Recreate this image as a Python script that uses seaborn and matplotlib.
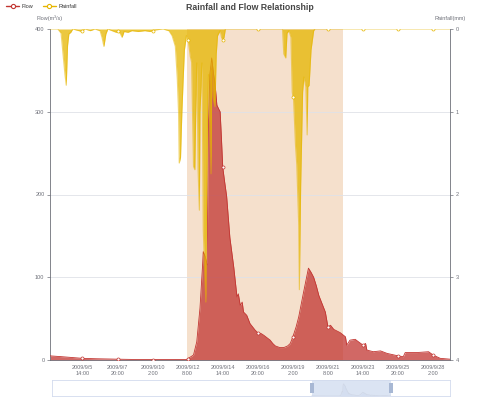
import matplotlib
matplotlib.use('Agg')
import matplotlib.pyplot as plt
from matplotlib.lines import Line2D
import pandas as pd
import seaborn as sns

# --- data ---
FLOW_TIMES = [
    '2009/9/3 12:00', '2009/9/4 6:00', '2009/9/5 14:00', '2009/9/6 12:00', '2009/9/7 20:00',
    '2009/9/9 0:00', '2009/9/10 2:00', '2009/9/11 12:00', '2009/9/12 6:00', '2009/9/12 8:00',
    '2009/9/12 9:00', '2009/9/12 13:00', '2009/9/12 17:00', '2009/9/12 22:00', '2009/9/13 3:00',
    '2009/9/13 7:00', '2009/9/13 8:00', '2009/9/13 11:00', '2009/9/13 14:00', '2009/9/13 16:00',
    '2009/9/13 18:00', '2009/9/13 21:00', '2009/9/14 0:00', '2009/9/14 2:00', '2009/9/14 5:00',
    '2009/9/14 8:00', '2009/9/14 10:00', '2009/9/14 12:00', '2009/9/14 14:00', '2009/9/14 17:00',
    '2009/9/14 20:00', '2009/9/15 1:00', '2009/9/15 4:00', '2009/9/15 7:00', '2009/9/15 12:00',
    '2009/9/15 14:00', '2009/9/15 17:00', '2009/9/15 20:00', '2009/9/15 22:00', '2009/9/16 3:00',
    '2009/9/16 8:00', '2009/9/16 12:00', '2009/9/16 16:00', '2009/9/16 20:00', '2009/9/17 1:00',
    '2009/9/17 5:00', '2009/9/17 10:00', '2009/9/17 15:00', '2009/9/17 19:00', '2009/9/17 23:00',
    '2009/9/18 6:00', '2009/9/18 12:00', '2009/9/18 18:00', '2009/9/18 22:00', '2009/9/19 2:00',
    '2009/9/19 7:00', '2009/9/19 11:00', '2009/9/19 18:00', '2009/9/20 2:00', '2009/9/20 6:00',
    '2009/9/20 10:00', '2009/9/20 14:00', '2009/9/20 18:00', '2009/9/21 1:00', '2009/9/21 4:00',
    '2009/9/21 8:00', '2009/9/21 12:00', '2009/9/21 17:00', '2009/9/22 3:00', '2009/9/22 11:00',
    '2009/9/22 13:00', '2009/9/22 18:00', '2009/9/23 2:00', '2009/9/23 7:00', '2009/9/23 14:00',
    '2009/9/23 18:00', '2009/9/23 20:00', '2009/9/24 6:00', '2009/9/24 17:00', '2009/9/25 3:00',
    '2009/9/25 20:00', '2009/9/26 4:00', '2009/9/26 7:00', '2009/9/27 1:00', '2009/9/27 19:00',
    '2009/9/28 2:00', '2009/9/28 13:00', '2009/9/29 4:00',
]
FLOW_VALUES = [
    5, 4, 2, 1.5, 1,
    0.6, 0.5, 0.5, 0.6, 1.5,
    2, 4, 6, 22, 63,
    115, 131, 125, 115, 284,
    344, 365, 345, 335, 308,
    303, 300, 268, 233, 215,
    198, 148, 130, 112, 76,
    80, 66, 70, 58, 54,
    44, 40, 36, 33, 32,
    30, 27, 24, 20, 17,
    15, 15, 17, 20, 28,
    40, 52, 80, 111, 106,
    100, 90, 78, 64, 58,
    40, 42, 37, 33, 28,
    18, 24, 25, 22, 18,
    20, 12, 10, 11, 8,
    5, 4, 9, 9, 10,
    6, 2, 1,
]

RAIN_TIMES = [
    '2009/9/3 12:00', '2009/9/4 0:00', '2009/9/4 5:00', '2009/9/4 8:00', '2009/9/4 11:00',
    '2009/9/4 13:00', '2009/9/4 15:00', '2009/9/4 17:00', '2009/9/4 20:00', '2009/9/4 23:00',
    '2009/9/5 13:00', '2009/9/5 14:00', '2009/9/5 18:00', '2009/9/6 2:00', '2009/9/6 9:00',
    '2009/9/6 17:00', '2009/9/6 20:00', '2009/9/6 23:00', '2009/9/7 2:00', '2009/9/7 5:00',
    '2009/9/7 18:00', '2009/9/7 20:00', '2009/9/8 0:00', '2009/9/8 3:00', '2009/9/8 6:00',
    '2009/9/8 12:00', '2009/9/8 18:00', '2009/9/9 4:00', '2009/9/9 14:00', '2009/9/9 22:00',
    '2009/9/10 2:00', '2009/9/10 7:00', '2009/9/10 18:00', '2009/9/11 3:00', '2009/9/11 8:00',
    '2009/9/11 13:00', '2009/9/11 16:00', '2009/9/11 18:00', '2009/9/11 19:00', '2009/9/11 21:00',
    '2009/9/11 23:00', '2009/9/12 1:00', '2009/9/12 3:00', '2009/9/12 6:00', '2009/9/12 8:00',
    '2009/9/12 9:00', '2009/9/12 12:00', '2009/9/12 14:00', '2009/9/12 17:00', '2009/9/12 19:00',
    '2009/9/12 20:00', '2009/9/12 22:00', '2009/9/12 23:00', '2009/9/13 0:00', '2009/9/13 2:00',
    '2009/9/13 3:00', '2009/9/13 6:00', '2009/9/13 8:00', '2009/9/13 10:00', '2009/9/13 12:00',
    '2009/9/13 13:00', '2009/9/13 15:00', '2009/9/13 16:00', '2009/9/13 18:00', '2009/9/13 20:00',
    '2009/9/13 21:00', '2009/9/13 23:00', '2009/9/14 2:00', '2009/9/14 4:00', '2009/9/14 6:00',
    '2009/9/14 10:00', '2009/9/14 12:00', '2009/9/14 14:00', '2009/9/14 16:00', '2009/9/14 18:00',
    '2009/9/16 20:00', '2009/9/18 10:00', '2009/9/18 12:00', '2009/9/18 15:00', '2009/9/18 17:00',
    '2009/9/18 20:00', '2009/9/18 23:00', '2009/9/19 1:00', '2009/9/19 2:00', '2009/9/19 3:00',
    '2009/9/19 6:00', '2009/9/19 8:00', '2009/9/19 11:00', '2009/9/19 12:00', '2009/9/19 14:00',
    '2009/9/19 17:00', '2009/9/19 19:00', '2009/9/19 22:00', '2009/9/20 0:00', '2009/9/20 1:00',
    '2009/9/20 3:00', '2009/9/20 6:00', '2009/9/20 10:00', '2009/9/20 12:00', '2009/9/21 8:00',
    '2009/9/23 14:00', '2009/9/25 20:00', '2009/9/28 2:00', '2009/9/29 4:00',
]
RAIN_VALUES = [
    0, 0, 0.05, 0.3, 0.55,
    0.68, 0.2, 0.06, 0.04, 0,
    0.03, 0.02, 0, 0.02, 0,
    0.02, 0.1, 0.21, 0.06, 0,
    0.04, 0.03, 0.05, 0.1, 0.03,
    0.04, 0.02, 0.03, 0.02, 0.03,
    0.02, 0.01, 0, 0.02, 0.08,
    0.21, 0.6, 1.02, 1.62, 1.55,
    1.02, 0.62, 0.25, 0.08, 0.13,
    0.15, 0.33, 0.4, 1.66, 1.7,
    1.2, 0.41, 0.9, 1.7, 2.19,
    1.0, 0.41, 2.43, 2.9, 3.3,
    2.2, 0.8, 0.55, 1.2, 1.75,
    0.5, 0.82, 0.94, 0.3, 0.08,
    0.02, 0.1, 0.13, 0.1, 0,
    0, 0, 0.3, 0.35, 0.05,
    0.02, 0.1, 0.76, 0.82, 0.84,
    1.4, 1.64, 2.37, 3.15, 1.9,
    0.76, 0.58, 0.7, 1.28, 0.7,
    0.68, 0.25, 0.02, 0, 0,
    0, 0, 0, 0,
]

TICK_TIMES = [
    '2009/9/5 14:00', '2009/9/7 20:00', '2009/9/10 2:00', '2009/9/12 8:00',
    '2009/9/14 14:00', '2009/9/16 20:00', '2009/9/19 2:00', '2009/9/21 8:00',
    '2009/9/23 14:00', '2009/9/25 20:00', '2009/9/28 2:00',
]
FLOW_TICKS = [0, 100, 200, 300, 400]
RAIN_TICKS = [0, 1, 2, 3, 4]
MARK_AREA = ['2009/9/12 7:00', '2009/9/22 7:00']
X_RANGE = ['2009/9/3 12:00', '2009/9/29 4:00']

RED = '#c23531'
YELLOW = '#e6b600'
AXIS_GRAY = '#6E7079'
FMT = '%Y/%m/%d %H:%M'


def to_time(values):
    return pd.to_datetime(values, format=FMT)


flow = pd.DataFrame({'time': to_time(FLOW_TIMES), 'flow': FLOW_VALUES})
rain = pd.DataFrame({'time': to_time(RAIN_TIMES), 'rain': RAIN_VALUES})
ticks = to_time(TICK_TIMES)
x0, x1 = to_time(X_RANGE)
m0, m1 = to_time(MARK_AREA)

sns.set_theme(style='white')
plt.rcParams['font.family'] = ['Liberation Sans', 'DejaVu Sans']

fig = plt.figure(figsize=(5, 4), dpi=100)
ax = fig.add_axes([0.1, 0.1, 0.8, 0.8275])
ax2 = ax.twinx()

# --- flow (left axis) ---
ax.axvspan(m0, m1, color='#f5e0cc', lw=0, zorder=0)
for v in FLOW_TICKS[1:-1]:
    ax.axhline(v, color='#dfe2e8', lw=0.6, zorder=0.5)
ax.fill_between(flow['time'], 0, flow['flow'], color=RED, alpha=0.75, lw=0, zorder=2)
sns.lineplot(data=flow, x='time', y='flow', ax=ax, color=RED, lw=0.6, zorder=3)
fm = flow[flow['time'].isin(ticks)]
ax.plot(fm['time'], fm['flow'], 'o', ms=2.2, mfc='white', mec=RED, mew=0.5, zorder=4)

# --- rainfall (right axis, inverted) ---
ax2.fill_between(rain['time'], 0, rain['rain'], color=YELLOW, alpha=0.75, lw=0, zorder=2)
sns.lineplot(data=rain, x='time', y='rain', ax=ax2, color=YELLOW, lw=0.8, alpha=0.55, zorder=3)
rm = rain[rain['time'].isin(ticks)]
ax2.plot(rm['time'], rm['rain'], 'o', ms=2.2, mfc='white', mec=YELLOW, mew=0.5, zorder=4)

ax.set_xlim(x0, x1)
ax.set_ylim(0, 400)
ax2.set_ylim(4, 0)
ax.set_xticks(ticks)
ax.set_xticklabels([f'{t.year}/{t.month}/{t.day}\n{t.hour}:{t.minute:02d}' for t in ticks])
ax.set_yticks(FLOW_TICKS)
ax2.set_yticks(RAIN_TICKS)
for a in (ax, ax2):
    a.set_xlabel('')
    a.set_ylabel('')
    a.tick_params(labelsize=4, colors=AXIS_GRAY, length=2, width=0.5, pad=2)
    for s in a.spines.values():
        s.set_visible(False)
ax.tick_params(axis='x', labelcolor=AXIS_GRAY, pad=1.5)
ax.tick_params(axis='y', left=True)
ax2.tick_params(axis='y', right=True)
ax.spines['left'].set_visible(True)
ax.spines['bottom'].set_visible(True)
ax2.spines['right'].set_visible(True)
for s in (ax.spines['left'], ax.spines['bottom'], ax2.spines['right']):
    s.set_color(AXIS_GRAY)
    s.set_linewidth(0.6)

ax.text(0, 1.033, 'Flow(m³/s)', transform=ax.transAxes, ha='center', va='center',
        fontsize=4, color=AXIS_GRAY)
ax.text(1, 1.033, 'Rainfall(mm)', transform=ax.transAxes, ha='center', va='center',
        fontsize=4, color=AXIS_GRAY)
fig.text(0.5, 0.98, 'Rainfall and Flow Relationship', ha='center', va='center',
         fontsize=6.3, weight='bold', color='#464646')

handles = [
    Line2D([], [], color=RED, lw=1, marker='o', ms=3, mfc='white', mec=RED, mew=0.8),
    Line2D([], [], color=YELLOW, lw=1, marker='o', ms=3, mfc='white', mec=YELLOW, mew=0.8),
]
fig.legend(handles, ['Flow', 'Rainfall'], loc='upper left', bbox_to_anchor=(0.004, 1.0),
           ncol=2, frameon=False, fontsize=4, handlelength=2.4, handletextpad=0.5,
           columnspacing=1.6, borderaxespad=0.3, labelcolor='#333333')

# --- data zoom slider ---
sl = fig.add_axes([0.104, 0.01, 0.796, 0.04])
span = x1 - x0
win_l, win_r = (311.7 - 52) / 398, (390.7 - 52) / 398
total = span / (win_r - win_l)
sl.set_xlim(x0 - total * win_l, x1 + total * (1 - win_r))
sl.set_ylim(0, 480)
sl.fill_between(flow['time'], 0, flow['flow'], color='#e9edf5', lw=0)
sl.plot(flow['time'], flow['flow'], color='#cfd7e6', lw=0.5)
sl.axvspan(x0, x1, color='#c9d6ee', alpha=0.65, lw=0)
hw = total * 0.005
sl.axvspan(x0 - hw, x0 + hw, ymin=0.2, ymax=0.8, color='#a8b8d4', lw=0)
sl.axvspan(x1 - hw, x1 + hw, ymin=0.2, ymax=0.8, color='#a8b8d4', lw=0)
sl.set_xticks([])
sl.set_yticks([])
for s in sl.spines.values():
    s.set_color('#d2dbee')
    s.set_linewidth(0.6)

fig.savefig('out.png', dpi=100)
